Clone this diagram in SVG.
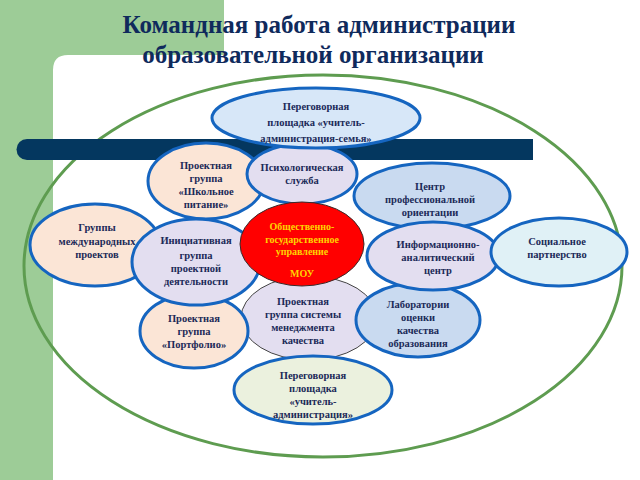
<svg xmlns="http://www.w3.org/2000/svg" width="640" height="480" viewBox="0 0 640 480">
<style>
.n{stroke:#1565c0;stroke-width:3}
.t{font-family:"Liberation Serif","DejaVu Serif",serif;font-weight:bold;font-size:10.5px;fill:#1b2a58;text-anchor:middle}
.title{font-family:"Liberation Serif","DejaVu Serif",serif;font-weight:bold;font-size:25px;fill:#0f2a5c;text-anchor:middle}
.peach{fill:#fbe5d6}.lav{fill:#e3def0}.blue{fill:#c9daf0}.lblue{fill:#d7e7f8}.cyan{fill:#e0f1f6}.lgreen{fill:#ebf1de}
</style>
<rect width="640" height="480" fill="#ffffff"/>
<g id="background">
<rect x="0" y="0" width="53" height="480" fill="#9dcc97"/>
<path d="M0 0H224V55H68Q53 55 53 70V480H0Z" fill="#9dcc97"/>
<ellipse cx="323" cy="266" rx="299" ry="191" fill="none" stroke="#5e9c50" stroke-width="3"/>
<path d="M27 139H533V160H27A10.5 10.5 0 0 1 27 139Z" fill="#04375f"/>
</g>
<text class="title" x="319" y="33">Командная работа администрации</text>
<text class="title" x="313" y="63">образовательной организации</text>
<g id="connectors"></g>
<g id="n5"><ellipse class="n peach" cx="95" cy="245" rx="65" ry="41"/><text class="t" x="97" y="231">Группы</text><text class="t" x="97" y="245">международных</text><text class="t" x="97" y="258">проектов</text></g>
<g id="n2"><ellipse class="n peach" cx="206" cy="181" rx="58" ry="38"/><text class="t" x="206" y="169">Проектная</text><text class="t" x="206" y="182">группа</text><text class="t" x="206" y="195">«Школьное</text><text class="t" x="206" y="208">питание»</text></g>
<g id="n4"><ellipse class="n blue" cx="432" cy="196" rx="78" ry="33"/><text class="t" x="430" y="190">Центр</text><text class="t" x="430" y="203">профессиональной</text><text class="t" x="430" y="216">ориентации</text></g>
<g id="n3"><ellipse class="n lav" cx="302" cy="174" rx="55" ry="30"/><text class="t" x="302" y="171">Психологическая</text><text class="t" x="302" y="184">служба</text></g>
<g id="n10"><ellipse class="lav" cx="309" cy="318" rx="68" ry="42" stroke="#444" stroke-width="1"/><text class="t" x="303" y="305">Проектная</text><text class="t" x="303" y="318">группа системы</text><text class="t" x="303" y="331">менеджмента</text><text class="t" x="303" y="344">качества</text></g>
<g id="n11"><ellipse class="n peach" cx="194" cy="331" rx="54" ry="37"/><text class="t" x="194" y="322">Проектная</text><text class="t" x="194" y="335">группа</text><text class="t" x="194" y="348">«Портфолио»</text></g>
<g id="n6"><ellipse class="n lav" cx="196" cy="262" rx="64" ry="43"/><text class="t" x="196" y="244">Инициативная</text><text class="t" x="196" y="259">группа</text><text class="t" x="196" y="272">проектной</text><text class="t" x="196" y="285">деятельности</text></g>
<g id="n12"><ellipse class="n blue" cx="418" cy="320" rx="62" ry="37"/><text class="t" x="418" y="308">Лаборатории</text><text class="t" x="418" y="321">оценки</text><text class="t" x="418" y="334">качества</text><text class="t" x="418" y="347">образования</text></g>
<g id="n8"><ellipse class="n lav" cx="433" cy="256" rx="66" ry="34"/><text class="t" x="438" y="248">Информационно-</text><text class="t" x="438" y="261">аналитический</text><text class="t" x="438" y="274">центр</text></g>
<g id="n9"><ellipse class="n cyan" cx="559" cy="252" rx="68" ry="34"/><text class="t" x="557" y="245">Социальное</text><text class="t" x="557" y="258">партнерство</text></g>
<g id="n13"><ellipse class="n lgreen" cx="313" cy="390" rx="79" ry="34"/><text class="t" x="313" y="379">Переговорная</text><text class="t" x="313" y="392">площадка</text><text class="t" x="313" y="405">«учитель-</text><text class="t" x="313" y="418">администрация»</text></g>
<g id="n7"><ellipse cx="302" cy="244" rx="62" ry="42" fill="#ff0000" stroke="#3a2a2a" stroke-width="1"/><text class="t" x="302" y="230" style="fill:#ffd400;font-size:10px">Общественно-</text><text class="t" x="302" y="243" style="fill:#ffd400;font-size:10px">государственное</text><text class="t" x="302" y="255" style="fill:#ffd400;font-size:10px">управление</text><text class="t" x="302" y="277" style="fill:#ffd400;font-size:10px">МОУ</text></g>
<g id="n1"><ellipse class="n lblue" cx="316" cy="118" rx="104" ry="30"/><text class="t" x="316" y="110">Переговорная</text><text class="t" x="316" y="126">площадка «учитель-</text><text class="t" x="316" y="142">администрация-семья»</text></g>
</svg>
